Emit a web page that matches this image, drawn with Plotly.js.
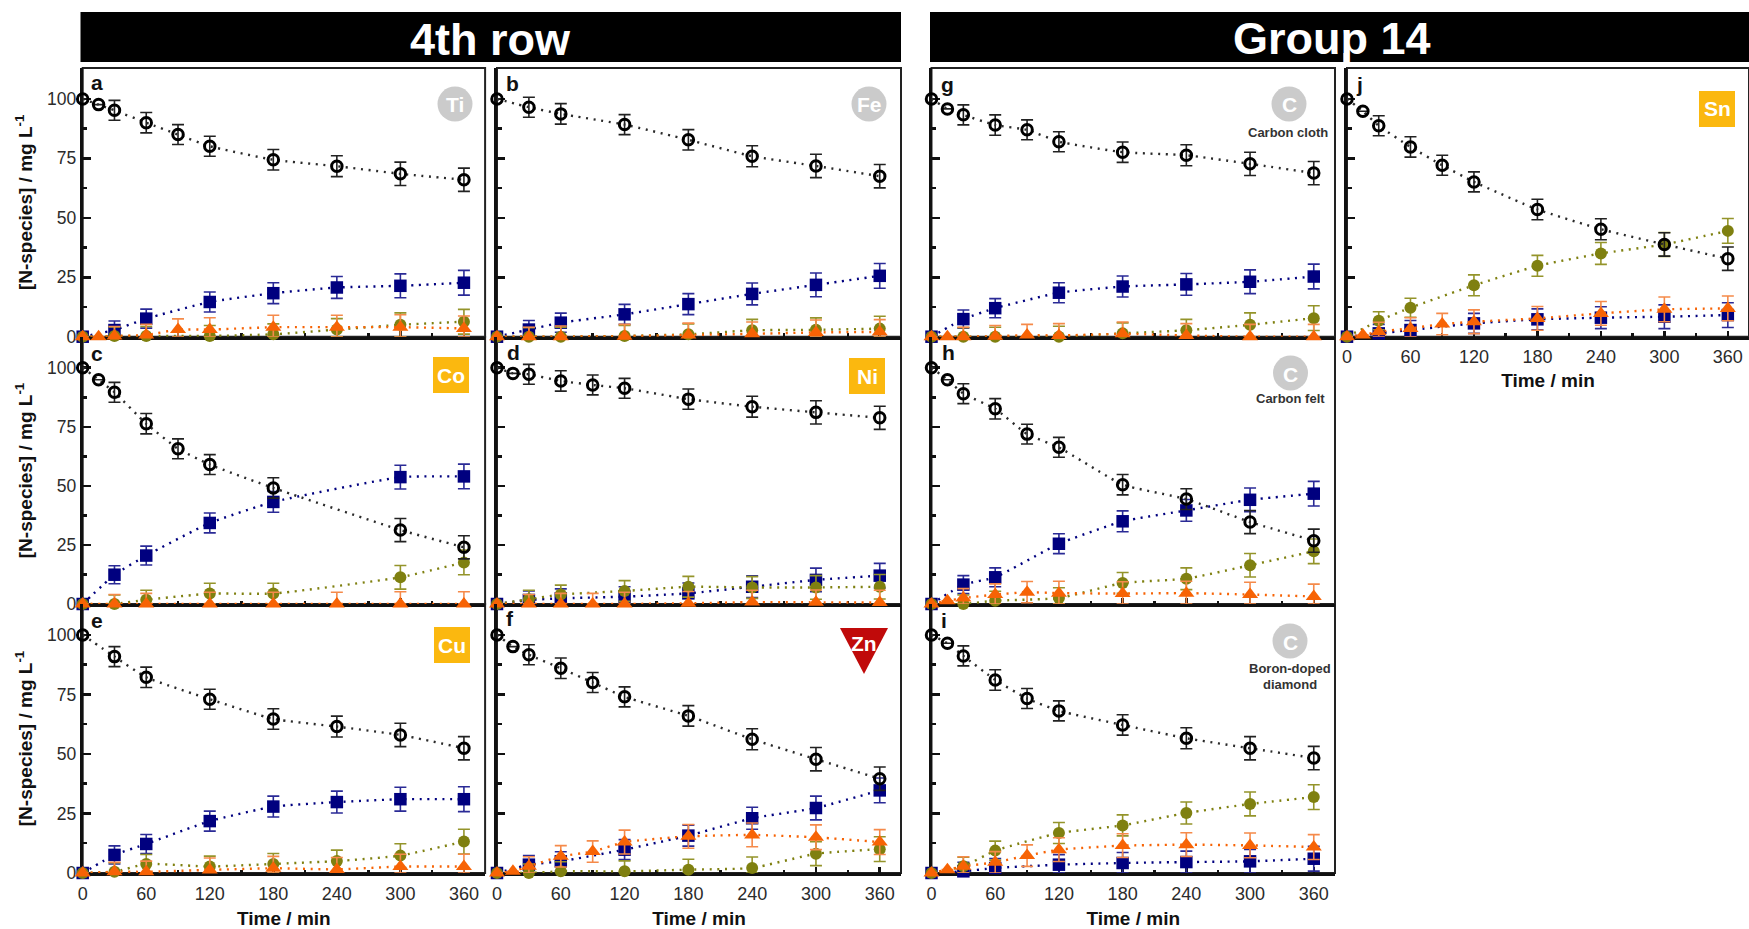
<!DOCTYPE html>
<html><head><meta charset="utf-8">
<script src="https://cdn.plot.ly/plotly-3.0.1.min.js"></script>
<style>html,body{margin:0;padding:0;background:#fff}#c{width:1749px;height:929px}</style>
</head><body><div id="c"></div>
<script>
// Sampling times (min)
const timeAll  = [0,15,30,60,90,120,180,240,300,360];
const timeCore = [0,30,60,120,180,240,300,360];
const timeNo15 = [0,30,60,90,120,180,240,300,360];
const timeCoA  = [0,15,30,60,90,120,180,300,360];
const timeCoB  = [0,30,60,120,180,300,360];

// Error half-widths by position in timeAll
const errBlack  = [0,0,4.2,4.3,4.2,4.2,4.3,4.4,4.9,4.9];
const errBlue   = [0,0,3.8,4.0,4.0,4.2,4.4,4.6,5.0,5.2];
const errOlive  = [0,0,3.8,4.0,4.0,4.4,4.4,4.6,5.0,5.2];
const errOrange = [0,0,4.0,4.5,4.5,5.0,5.0,5.0,5.2,5.2];

// a Ti
const aBlack=[100,97.6,95.2,90,85,80.1,74.4,71.7,68.5,66];
const aBlue=[0,2.8,7.6,14.6,18.3,20.7,21.4,22.7];
const aOlive=[0,0.3,0.3,0.3,1,3,5,6.3];
const aOrange=[0,0,0.3,0.7,3,3,4,4,4,3.5];
// b Fe
const bBlack=[100,96.5,93.7,89.2,82.8,75.9,71.8,67.5];
const bBlue=[0,3,5.9,9.4,13.7,18,21.8,25.6];
const bOlive=[0,0,0,0.3,1,2.7,2.9,3.4];
const bOrange=[0,0,0,0.2,0.7,1.2,1.8,2];
// c Co
const cBlack=[100,94.9,89.6,76.3,65.7,59,49.1,31.3,24];
const cBlue=[0,12.4,20.5,34.3,43.2,53.7,54];
const cOlive=[0,0,1.8,4.4,4.4,11.3,17.6];
const cOrange=[0,0,0,0,0,0,0,0];
// d Ni
const dBlack=[100,97.6,97.2,94.4,92.7,91.3,86.7,83.5,81.1,78.8];
const dBlue=[0,1.7,2.4,3.1,4.5,7.3,10.2,12];
const dOlive=[0,2,4,5.5,7.3,7,7,7.3];
const dOrange=[0,0,0,0,0,0.3,0.8,0.7,0.6];
// e Cu
const eBlack=[100,90.9,82.2,73,64.7,61.5,58,52.4];
const eBlue=[0,7.6,12.2,21.8,27.9,29.8,31,31];
const eOlive=[0,0.5,3.8,2.7,3.8,5,7.3,13.2];
const eOrange=[0,0.5,0.5,1.3,2,1.5,2.7,2.7];
// f Zn
const fBlack=[100,95.1,91.7,86,80,74,66,56.2,47.8,39.6];
const fBlue=[0,3.5,4.9,9.8,15.7,23,27.3,34.7];
const fOlive=[0,0,0.7,0.7,1.4,2.1,8.1,10];
const fOrange=[0,0.7,2.8,7,9,13,15.4,16,15,13];
// g Carbon cloth
const gBlack=[100,95.8,93.3,89,87,82,77.6,76.3,72.7,68.8];
const gBlue=[0,7.4,12,18.5,21.1,22,23.1,25.3];
const gOlive=[0,0,0,0,1.4,2.7,5,7.8];
const gOrange=[0,0,0,0.2,0.7,0.5,1.2,0.5,0,0];
// h Carbon felt
const hBlack=[100,94.9,89,82.6,71.9,66.3,50.5,44.4,34.7,26.8];
const hBlue=[0,8.2,11.3,25.5,35,39.6,44.1,46.7];
const hOlive=[0,0,1.4,2.5,8.9,10.7,16.4,22.3];
const hOrange=[0,1.4,2.5,4,5,4.6,4.4,4.6,4,3.2];
// i Boron-doped diamond
const iBlack=[100,96.5,91.2,81.1,73.3,68.1,62.2,56.6,52.4,48.3];
const iBlue=[0,0.7,2.1,3.5,4.2,4.6,4.9,6];
const iOlive=[0,2.8,9.4,16.8,20,25.2,29,31.9];
const iOrange=[0,1.4,2.8,4.5,7.3,9.8,11.5,11.9,11.6,10.9];
// j Sn
const jBlack=[100,94.8,88.7,79.8,72.1,65.1,53.5,45.2,38.8,32.8];
const jBlue=[0,1.4,2.8,5.6,7.3,8,8.4,9.1];
const jOlive=[0,6.7,12.2,21.6,29.8,35,38.8,44.5];
const jOrange=[0,0.7,2.1,3.5,5.3,6.3,7.7,9.8,11.5,11.9];

const xTickVals=[0,60,120,180,240,300,360];
const yTickVals=[0,25,50,75,100];

const panels=[
 {id:'a',col:0,row:0,tBlack:timeAll,tBlue:timeCore,tOlive:timeCore,tOrange:timeAll,black:aBlack,blue:aBlue,olive:aOlive,orange:aOrange},
 {id:'b',col:1,row:0,tBlack:timeCore,tBlue:timeCore,tOlive:timeCore,tOrange:timeCore,black:bBlack,blue:bBlue,olive:bOlive,orange:bOrange},
 {id:'c',col:0,row:1,tBlack:timeCoA,tBlue:timeCoB,tOlive:timeCoB,tOrange:timeCore,black:cBlack,blue:cBlue,olive:cOlive,orange:cOrange},
 {id:'d',col:1,row:1,tBlack:timeAll,tBlue:timeCore,tOlive:timeCore,tOrange:timeNo15,black:dBlack,blue:dBlue,olive:dOlive,orange:dOrange},
 {id:'e',col:0,row:2,tBlack:timeCore,tBlue:timeCore,tOlive:timeCore,tOrange:timeCore,black:eBlack,blue:eBlue,olive:eOlive,orange:eOrange},
 {id:'f',col:1,row:2,tBlack:timeAll,tBlue:timeCore,tOlive:timeCore,tOrange:timeAll,black:fBlack,blue:fBlue,olive:fOlive,orange:fOrange},
 {id:'g',col:2,row:0,tBlack:timeAll,tBlue:timeCore,tOlive:timeCore,tOrange:timeAll,black:gBlack,blue:gBlue,olive:gOlive,orange:gOrange},
 {id:'h',col:2,row:1,tBlack:timeAll,tBlue:timeCore,tOlive:timeCore,tOrange:timeAll,black:hBlack,blue:hBlue,olive:hOlive,orange:hOrange},
 {id:'i',col:2,row:2,tBlack:timeAll,tBlue:timeCore,tOlive:timeCore,tOrange:timeAll,black:iBlack,blue:iBlue,olive:iOlive,orange:iOrange},
 {id:'j',col:3,row:0,tBlack:timeAll,tBlue:timeCore,tOlive:timeCore,tOrange:timeAll,black:jBlack,blue:jBlue,olive:jOlive,orange:jOrange}
];

const W=1749,H=929;
const X=p=>p/W, Y=p=>1-p/H;
const colLeft=[82.7,497,931.5,1347];
const colWidth=[402.4,404,403.5,402];
const rowTop=[68,337,604], rowBot=[336.7,604,873];
const FONT='"Liberation Sans", Arial, sans-serif';
const TXT='#2b2b2b';

const styles={
 blue:  {color:'#00007f',err:'#2a2a96',symbol:'square',size:12.5,errs:errBlue},
 olive: {color:'#7f8010',err:'#94942a',symbol:'circle',size:12,errs:errOlive},
 orange:{color:'#f76305',err:'#f58a4a',symbol:'triangle-up',size:14,errs:errOrange},
 black: {color:'#000000',err:'#222222',symbol:'circle-open',size:10.5,errs:errBlack,lc:'#2a2a2a'}
};
const order=['blue','olive','orange','black'];

const traces=[], layout={
 width:W,height:H,margin:{l:0,r:0,t:0,b:0},paper_bgcolor:'#fff',plot_bgcolor:'rgba(0,0,0,0)',
 showlegend:false,font:{family:FONT,color:TXT},shapes:[],annotations:[]
};

function note(text,px,py,size,color,bold){
 layout.annotations.push({xref:'paper',yref:'paper',x:X(px),y:Y(py),xanchor:'center',yanchor:'middle',
  text:bold===false?text:'<b>'+text+'</b>',showarrow:false,font:{family:FONT,size:size,color:color},align:'center',borderpad:0});
}
function box(x0,y0,x1,y1,fill,type,line){
 layout.shapes.push({type:type||'rect',xref:'paper',yref:'paper',x0:X(x0),x1:X(x1),y0:Y(y0),y1:Y(y1),
  fillcolor:fill,line:line||{width:0},layer:'below'});
}

panels.forEach((p,i)=>{
 const n=i===0?'':String(i+1);
 const left=colLeft[p.col], top=rowTop[p.row], bot=rowBot[p.row], panelW=colWidth[p.col];
 const hasX=p.row===2||p.id==='j', hasY=p.col===0;
 layout['xaxis'+n]={domain:[X(left),X(left+panelW)],range:[0,380],anchor:'y'+n,tickmode:'array',tickvals:xTickVals,
  ticks:'inside',ticklen:6,tickwidth:2.5,tickcolor:'#111',showline:true,linecolor:'#111',linewidth:3,layer:'below traces',
  showgrid:false,zeroline:false,showticklabels:hasX,tickfont:{size:18,color:TXT,family:FONT},ticklabelstandoff:2,
  minor:{tickmode:'array',tickvals:[30,90,150,210,270,330],ticks:'inside',ticklen:3.5,tickwidth:2.5,tickcolor:'#111',showgrid:false},
  title:hasX?{text:'<b>Time / min</b>',font:{size:19,color:'#111',family:FONT},standoff:p.id==='j'?8:10}:undefined};
 layout['yaxis'+n]={domain:[Y(bot),Y(top)],range:[0,113],anchor:'x'+n,tickmode:'array',tickvals:yTickVals,
  ticks:'inside',ticklen:8,tickwidth:2.5,tickcolor:'#111',showline:true,linecolor:'#111',linewidth:3,layer:'below traces',
  showgrid:false,zeroline:false,showticklabels:hasY,tickfont:{size:17.5,color:TXT,family:FONT},
  minor:{tickmode:'array',tickvals:[12.5,37.5,62.5,87.5],ticks:'inside',ticklen:4.5,tickwidth:2.5,tickcolor:'#111',showgrid:false},
  title:hasY?{text:'<b>[N-species] / mg L<sup>-1</sup></b>',font:{size:19,color:'#111',family:FONT},standoff:10}:undefined};
 // panel frame
 box(left,top,left+panelW,bot,'rgba(0,0,0,0)','rect',{color:'#222',width:2});

 order.forEach(k=>{
  const s=styles[k], ys=p[k];
  const ts=p['t'+k[0].toUpperCase()+k.slice(1)];
  const up=ts.map(t=>s.errs[timeAll.indexOf(t)]);
  const dn=up.map((e,j)=>Math.min(e,ys[j]));
  traces.push({type:'scatter',mode:'lines+markers',x:ts,y:ys,xaxis:'x'+n,yaxis:'y'+n,cliponaxis:false,hoverinfo:'skip',
   line:{color:s.lc||s.color,width:2.4,dash:'2px,5.6px',shape:'spline',smoothing:0.4},
   marker:{symbol:s.symbol,size:s.size,color:s.color,line:{color:s.color,width:k==='black'?3:0}},
   error_y:{type:'data',symmetric:false,array:up,arrayminus:dn,color:s.err,thickness:1.6,width:6}});
 });
});

// Header bars
box(80.5,12,901,62,'#000');
box(930,12,1749,62,'#000');
box(1343.5,53,1346.5,62,'#fff');
note('4th row',490,39,45,'#fff');
note('Group 14',1332,38.5,45,'#fff');

// Panel letters
[['a',97,82],['b',512,83],['c',97,353],['d',513,352],['e',97,620],['f',510,618],['g',947,84],['h',948,352],['i',944,620],['j',1359,84]]
 .forEach(l=>note(l[0],l[1],l[2],21,'#111'));

// Element badges
const GREY='#cbcbcb',AMBER='#fbb80f';
function circ(t,cx,cy){box(cx-17.5,cy-17.5,cx+17.5,cy+17.5,GREY,'circle');note(t,cx,cy+1,21,'#fff');}
function sq(t,x0,y0){box(x0,y0,x0+36,y0+36,AMBER);note(t,x0+18,y0+18,21,'#fff');}
circ('Ti',455,104); circ('Fe',869,104); circ('C',1289,104); circ('C',1290.5,373); circ('C',1290,641);
sq('Co',433,357); sq('Ni',849,358); sq('Cu',434,627); sq('Sn',1699,91);
layout.shapes.push({type:'path',xref:'paper',yref:'paper',layer:'below',fillcolor:'#c00a0a',line:{width:0},
 path:'M '+X(840)+' '+Y(628)+' L '+X(888)+' '+Y(628)+' L '+X(864)+' '+Y(674)+' Z'});
note('Zn',864,643,21,'#fff');
note('Carbon cloth',1288,132,13,'#333');
note('Carbon felt',1290.5,399,13,'#333');
note('Boron-doped',1290,668,13,'#333');
note('diamond',1290,684,13,'#333');

Plotly.newPlot('c',traces,layout,{displayModeBar:false,staticPlot:true});
</script></body></html>
